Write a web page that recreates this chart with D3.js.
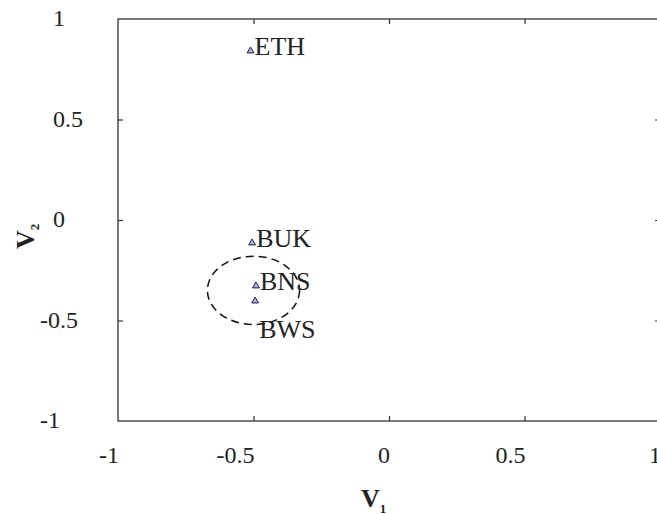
<!DOCTYPE html>
<html>
<head>
<meta charset="utf-8">
<script src="https://cdn.jsdelivr.net/npm/d3@7"></script>
<style>
  body { margin: 0; background: #fff; }
  svg { display: block; font-family: "Liberation Serif", "DejaVu Serif", serif; }
</style>
</head>
<body>
<div id="chart"></div>
<script>
// data
var names = ["ETH", "BUK", "BNS", "BWS"];
var v1 = [-0.511, -0.505, -0.491, -0.494];
var v2 = [0.841, -0.114, -0.328, -0.403];
var clusterCenter = [-0.5, -0.35];
var clusterRadius = 0.17;
var xTicks = [-1, -0.5, 0, 0.5, 1];
var yTicks = [-1, -0.5, 0, 0.5, 1];
var xTickLabels = ["-1", "-0.5", "0", "0.5", "1"];
var yTickLabels = ["-1", "-0.5", "0", "0.5", "1"];

var width = 657;
var height = 514;
// plot box (right edge runs just past the window)
var boxL = 118, boxR = 660, boxT = 19, boxB = 421;

var svg = d3.select('#chart')
  .append('svg')
  .attr('width', width)
  .attr('height', height);

var x = d3.scaleLinear().domain([-1, 1]).range([boxL, boxR]);
var y = d3.scaleLinear().domain([-1, 1]).range([boxB, boxT]);

// inward ticks on all four sides
var inner = [-0.5, 0, 0.5];
function ticks(g) {
  g.select('.domain').remove();
  g.selectAll('text').remove();
  g.selectAll('line').attr('stroke', '#333').attr('stroke-width', 1.2);
}
svg.append('g').attr('transform', 'translate(0,' + boxB + ')')
  .call(d3.axisBottom(x).tickValues(inner).tickSize(-5)).call(ticks);
svg.append('g').attr('transform', 'translate(0,' + boxT + ')')
  .call(d3.axisTop(x).tickValues(inner).tickSize(-5)).call(ticks);
svg.append('g').attr('transform', 'translate(' + boxL + ',0)')
  .call(d3.axisLeft(y).tickValues(inner).tickSize(-5)).call(ticks);
svg.append('g').attr('transform', 'translate(' + (boxR - 3) + ',0)')
  .call(d3.axisRight(y).tickValues(inner).tickSize(-2)).call(ticks);

svg.append('rect')
  .attr('x', boxL).attr('y', boxT)
  .attr('width', boxR - boxL).attr('height', boxB - boxT)
  .attr('fill', 'none')
  .attr('stroke', '#333')
  .attr('stroke-width', 1.3);

// tick labels
svg.selectAll('.xlab')
  .data(xTicks)
  .enter()
  .append('text')
  .attr('class', 'xlab')
  .attr('x', function(d) { return x(d) + 1; })
  .attr('y', 463)
  .attr('text-anchor', 'end')
  .attr('font-size', 24)
  .attr('fill', '#222')
  .text(function(d, i) { return xTickLabels[i]; });

svg.selectAll('.ylab')
  .data(yTicks)
  .enter()
  .append('text')
  .attr('class', 'ylab')
  .attr('x', function(d) { return d < 0 ? 40 : 53; })
  .attr('y', function(d) { return y(d) + 7; })
  .attr('font-size', 24)
  .attr('fill', '#222')
  .text(function(d, i) { return yTickLabels[i]; });

// axis titles
var xt = svg.append('text')
  .attr('x', 361).attr('y', 507)
  .attr('font-size', 26).attr('font-weight', 'bold').attr('fill', '#222');
xt.append('tspan').text('V');
xt.append('tspan').attr('font-size', 13).attr('dy', 6).attr('dx', 0).text('1');

var yt = svg.append('text')
  .attr('transform', 'translate(34,249) rotate(-90)')
  .attr('font-size', 26).attr('font-weight', 'bold').attr('fill', '#222');
yt.append('tspan').text('V');
yt.append('tspan').attr('font-size', 13).attr('dy', 5).attr('dx', 0).text('2');

// dashed circle round the B cluster
svg.append('ellipse')
  .attr('cx', x(clusterCenter[0]))
  .attr('cy', y(clusterCenter[1]))
  .attr('rx', x(clusterCenter[0] + clusterRadius) - x(clusterCenter[0]))
  .attr('ry', y(clusterCenter[1] - clusterRadius) - y(clusterCenter[1]))
  .attr('fill', 'none')
  .attr('stroke', '#111')
  .attr('stroke-width', 1.5)
  .attr('stroke-dasharray', '8,5');

// points
var tri = d3.symbol().type(d3.symbolTriangle).size(20);
svg.selectAll('.pt')
  .data(names)
  .enter()
  .append('path')
  .attr('class', 'pt')
  .attr('d', tri)
  .attr('transform', function(d, i) { return 'translate(' + x(v1[i]) + ',' + y(v2[i]) + ')'; })
  .attr('fill', '#b4b4e8')
  .attr('stroke', '#1a1a4a')
  .attr('stroke-width', 1);

svg.selectAll('.lab')
  .data(names)
  .enter()
  .append('text')
  .attr('class', 'lab')
  .attr('x', function(d, i) { return x(v1[i]) + 4; })
  .attr('y', function(d, i) { return y(v2[i]) + (d === 'BWS' ? 37 : 4); })
  .attr('font-size', 26)
  .attr('fill', '#222')
  .text(function(d) { return d; });
</script>
</body>
</html>
